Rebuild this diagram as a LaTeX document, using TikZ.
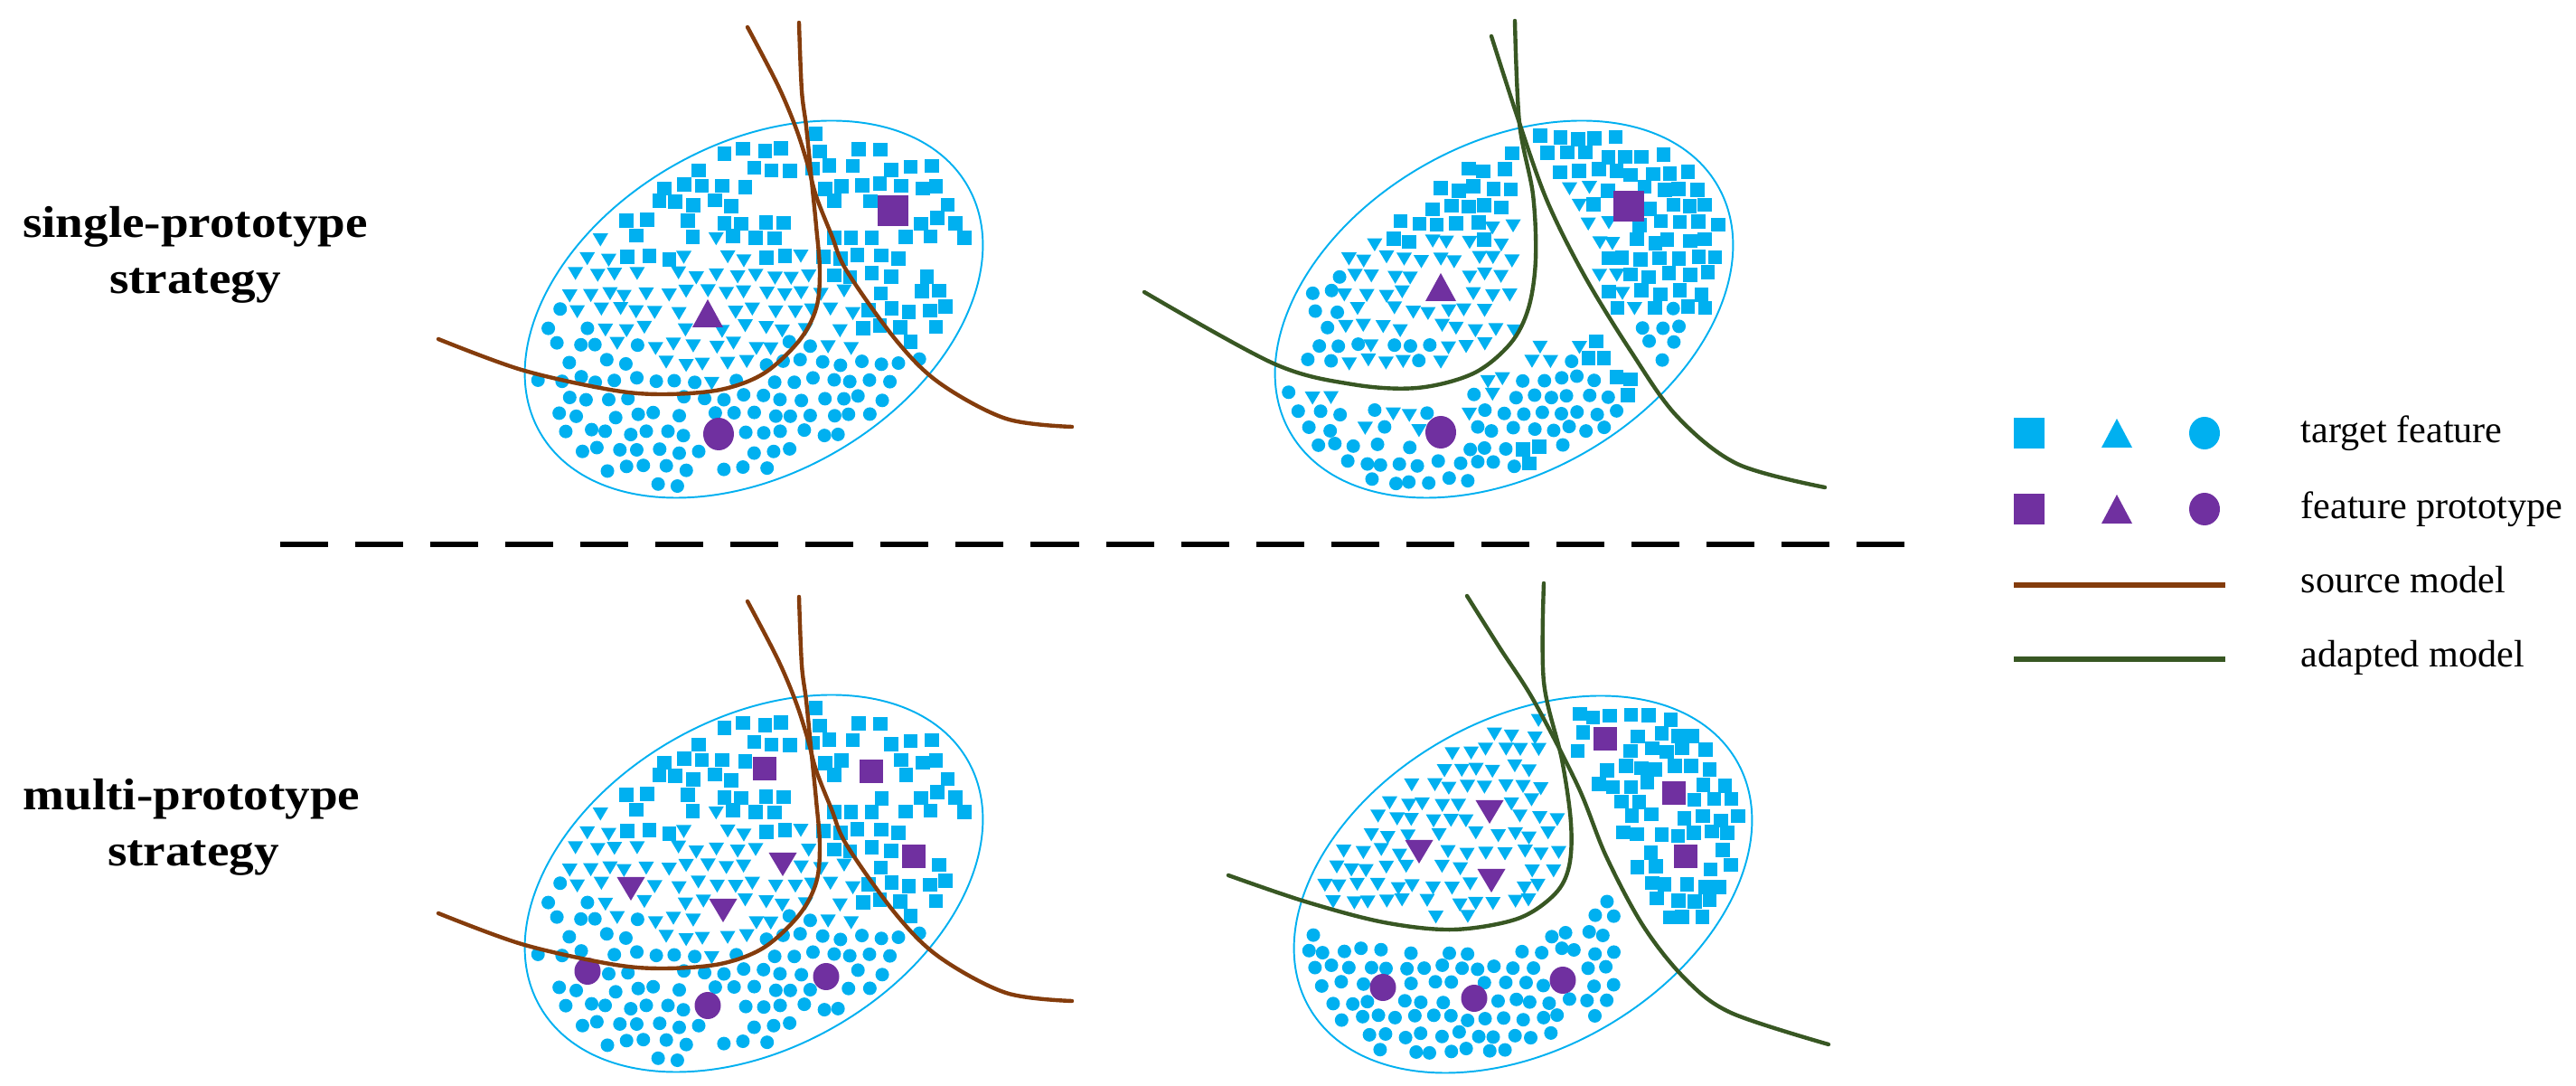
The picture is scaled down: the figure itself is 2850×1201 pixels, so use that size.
\documentclass[tikz,border=0pt]{standalone}
\usepackage{fontspec}
\setmainfont{Liberation Serif}
\newfontfamily\lblfont[FakeStretch=1.12]{Liberation Serif}
\definecolor{tcyan}{HTML}{00B0F0}
\definecolor{ppurple}{HTML}{7030A0}
\definecolor{sbrown}{HTML}{843C0C}
\definecolor{agreen}{HTML}{385723}
\tikzset{
  tfeat/.style={fill=tcyan},
  fproto/.style={fill=ppurple},
  srcline/.style={draw=sbrown, line width=1.25pt, line cap=round},
  adaline/.style={draw=agreen, line width=1.25pt, line cap=round},
  featspace/.style={draw=tcyan, line width=0.55pt},
  sidelbl/.style={font=\lblfont\bfseries\fontsize{14}{16}\selectfont, anchor=base, inner sep=0pt},
  lgtxt/.style={font=\fontsize{12}{14}\selectfont, anchor=base west, inner sep=0pt},
  sepline/.style={line width=1.45pt, dash pattern=on 5.3mm off 3mm},
}
% small target markers
\newcommand\tsq[2]{\fill[tfeat] (#1,-#2) +(-7.8,-7.8) rectangle +(7.8,7.8);}
\newcommand\ttri[2]{\fill[tfeat] (#1,-#2) +(-8.5,5.3) -- +(8.5,5.3) -- +(0,-9) -- cycle;}
\newcommand\tcirc[2]{\fill[tfeat] (#1,-#2) circle[radius=7.5];}
% prototypes
\newcommand\psq[3]{\fill[fproto] (#1,-#2) +(-#3,-#3) rectangle +(#3,#3);}
\newcommand\ptriup[2]{\fill[fproto] (#1,-#2) +(-17,-15) -- +(17,-15) -- +(0,16) -- cycle;}
\newcommand\ptridn[2]{\fill[fproto] (#1,-#2) +(-15.5,11) -- +(15.5,11) -- +(0,-15) -- cycle;}
\newcommand\pcirc[4]{\fill[fproto] (#1,-#2) ellipse[x radius=#3, y radius=#4];}
% scatter generator: #1 cx, #2 cy, #3 rule, #4 x step, #5 y step
\newcommand\scatter[5]{%
 \foreach \i in {-13,...,13}{%
  \foreach \j in {-11,...,11}{%
   \pgfmathrnd\let\ra\pgfmathresult
   \pgfmathrnd\let\rb\pgfmathresult
   \pgfmathrnd\let\rc\pgfmathresult
   \pgfmathrnd\let\rd\pgfmathresult
   \pgfmathrnd\let\re\pgfmathresult
   \ifodd\j\relax\def\off{0.5}\else\def\off{0}\fi
   \edef\px{\fpeval{round(#1 + (\i+\off)*#4 + (\ra-0.5)*8, 2)}}%
   \edef\py{\fpeval{round(#2 + \j*#5 + (\rb-0.5)*7, 2)}}%
   \edef\inside{\fpeval{((\px-#1)*0.8660254 - (\py-#2)*0.5)^2/68121 + ((\px-#1)*0.5 + (\py-#2)*0.8660254)^2/28900 < 1}}%
   \ifnum\inside=1 #3\relax
     \ifcase\cls\or\tsq\px\py\or\ttri\px\py\or\tcirc\px\py\fi
   \fi
 }}}
% class rules
\def\ruleTL{%
 \edef\yy{\fpeval{\py + (\rc-0.5)*36}}%
 \edef\cls{\fpeval{(\curexcl) ? 0 : ((\px > 955 && \yy < 380) ? 1 : ((\yy > ((\px <= 800) ? (334 + 0.55*(\px-610)) : max(380, 438 - 0.8*(\px-800)))) ? 3 : ((\yy < ((\px < 680) ? 240 : ((\px < 800) ? (295 - 0.27*(\px-680)) : (262 + 0.3*(\px-800))))) ? 1 : 2)))}}%
 \ifnum\cls=1 \ifdim\rd pt<0.3pt \def\cls{0}\fi\fi
 \ifdim\re pt<0.08pt \def\cls{0}\fi
}
\def\ruleTR{%
 \edef\XD{\fpeval{1753 + 0.538*(\py-305) + 0.000716*(\py-305)^2}}%
 \edef\XC{\fpeval{1699 - 0.0008*(\py-280)^2}}%
 \edef\YC{\fpeval{(\px > 1560) ? (430 - 0.00347*(\px-1560)^2) : (430 - 0.00123*(1560-\px)^2)}}%
 \edef\reg{\fpeval{(\curexcl) ? 0 : ((\px > \XD + 16 && \py < 410) ? 1 : ((\px < \XC - 16 && \py < \YC - 16 && \py > 300 - 0.74*(\px-1466)) ? 2 : ((\px < \XD - 16 && \py > max(\YC,360) + 16) ? 3 : 0)))}}%
 \ifcase\reg\relax \def\cls{0}%
 \or \edef\cls{\fpeval{(\px - \XD < 62 && \py > 205 && \py < 340 && \re < 0.55) ? 2 : ((\py > 326 && \px > 1792 && \re < 0.8) ? 3 : 1)}}%
 \or \edef\cls{\fpeval{((\px < 1484 && \py > 295) || (\py > \YC - 48 && \px < 1600 && \re < 0.5)) ? 3 : ((\py + (\rc-0.5)*30 < 265 - 0.6*max(0,\px-1620)) ? 1 : 2)}}%
 \or \edef\cls{\fpeval{((\XD - \px < 58 && \py < 475 && \rc < 0.85) || ((\px-1698)^2 + (\py-508)^2 < 500)) ? 1 : ((\py - max(\YC,360) < 48 && \re < 0.65) ? 2 : 3)}}%
 \fi
 \ifdim\rd pt<0.07pt \def\cls{0}\fi
}
\def\ruleBR{%
 \edef\XD{\fpeval{1748 + 0.5*(\py-870) + 0.0008*max(0,\py-960)^2}}%
 \edef\XC{\fpeval{1740 - 0.0012*(\py-930)^2}}%
 \edef\YC{\fpeval{(\px > 1600) ? (1028 - 0.0019*(\px-1600)^2) : (1028 - 0.0011*(1600-\px)^2)}}%
 \edef\cls{\fpeval{(\curexcl) ? 0 : ((\px > \XD + 16 && \py < 1025) ? 1 : ((\px < \XC - 15 && \py < \YC - 14 && \py > 896 - 0.74*(\px-1515)) ? 2 : ((\px < 1787 && \px < \XD - 16 && \py > max(\YC,960) + 26) ? 3 : 0)))}}%
 \ifdim\rd pt<0.06pt \def\cls{0}\fi
}
\begin{document}
\begin{tikzpicture}[x=0.01cm, y=0.01cm]
\useasboundingbox (0,0) rectangle (2850,-1201);

% ---------- left labels ----------
\node[sidelbl] (sp1) at (216,-263) {single-prototype};
\node[sidelbl] (sp2) at (216,-325) {strategy};
\node[sidelbl] (mp1) at (212,-896) {multi-prototype};
\node[sidelbl] (mp2) at (214,-958) {strategy};

% ---------- separator ----------
\draw[sepline] (310,-602) -- (2108,-602);

% ---------- top-left: source model, single prototype ----------
\draw[featspace, rotate around={30:(834,-342)}] (834,-342) ellipse[x radius=273, y radius=182];
\pgfmathsetseed{11}
\def\curexcl{((\px-988)^2+(\py-233)^2<520) || ((\px-783)^2+(\py-347)^2<520) || ((\px-795)^2+(\py-480)^2<520)}
\scatter{834}{342}{\ruleTL}{21.5}{19.5}
\psq{988}{233}{17}
\ptriup{783}{347}
\pcirc{795}{480}{17}{18}
\draw[srcline] plot[smooth, tension=0.55] coordinates {(884,-25) (887,-100) (892,-140) (898,-200) (903,-250) (907,-300) (903,-341) (884,-377) (845,-413) (797,-431) (733,-436) (675,-431) (577,-409) (485,-375)};
\draw[srcline] plot[smooth, tension=0.55] coordinates {(827,-30) (860,-93) (880,-140) (893,-180) (903,-217) (920,-260) (937,-300) (992,-377) (1040,-424) (1113,-463) (1186,-472)};

% ---------- bottom-left: source model, multi prototype ----------
\begin{scope}[shift={(0,-635)}]
\draw[featspace, rotate around={30:(834,-342)}] (834,-342) ellipse[x radius=273, y radius=182];
\pgfmathsetseed{11}
\def\curexcl{((\px-846)^2+(\py-215)^2<420) || ((\px-964)^2+(\py-218)^2<420) || ((\px-1011)^2+(\py-312)^2<420) || ((\px-698)^2+(\py-346)^2<420) || ((\px-866)^2+(\py-319)^2<420) || ((\px-800)^2+(\py-370)^2<420) || ((\px-650)^2+(\py-439)^2<420) || ((\px-783)^2+(\py-477)^2<420) || ((\px-914)^2+(\py-445)^2<420)}
\scatter{834}{342}{\ruleTL}{21.5}{19.5}
\end{scope}
\psq{846}{850}{13} \psq{964}{853}{13} \psq{1011}{947}{13}
\ptridn{698}{981} \ptridn{866}{954} \ptridn{800}{1005}
\pcirc{650}{1074}{14.5}{15} \pcirc{783}{1112}{14.5}{15} \pcirc{914}{1080}{14.5}{15}
\begin{scope}[shift={(0,-635)}]
\draw[srcline] plot[smooth, tension=0.55] coordinates {(884,-25) (887,-100) (892,-140) (898,-200) (903,-250) (907,-300) (903,-341) (884,-377) (845,-413) (797,-431) (733,-436) (675,-431) (577,-409) (485,-375)};
\draw[srcline] plot[smooth, tension=0.55] coordinates {(827,-30) (860,-93) (880,-140) (893,-180) (903,-217) (920,-260) (937,-300) (992,-377) (1040,-424) (1113,-463) (1186,-472)};
\end{scope}

% ---------- top-right: adapted model, single prototype ----------
\draw[featspace, rotate around={30:(1664,-342)}] (1664,-342) ellipse[x radius=273, y radius=182];
\pgfmathsetseed{23}
\def\curexcl{((\px-1802)^2+(\py-228)^2<520) || ((\px-1594)^2+(\py-318)^2<520) || ((\px-1594)^2+(\py-478)^2<520)}
\scatter{1664}{342}{\ruleTR}{20.5}{19}
\psq{1802}{228}{17}
\ptriup{1594}{318}
\pcirc{1594}{478}{17}{18}
\draw[adaline] plot[smooth, tension=0.55] coordinates {(1676,-23) (1681,-136) (1696,-215) (1699,-287) (1691,-341) (1671,-380) (1630,-413) (1568,-429) (1496,-425) (1409,-402) (1266,-323)};
\draw[adaline] plot[smooth, tension=0.55] coordinates {(1650,-40) (1681,-136) (1712,-223) (1753,-305) (1804,-388) (1855,-460) (1922,-513) (2019,-539)};

% ---------- bottom-right: adapted model, multi prototype ----------
\draw[featspace, rotate around={30:(1685,-978)}] (1685,-978) ellipse[x radius=273, y radius=182];
\pgfmathsetseed{37}
\def\curexcl{((\px-1776)^2+(\py-817)^2<420) || ((\px-1852)^2+(\py-877)^2<420) || ((\px-1865)^2+(\py-947)^2<420) || ((\px-1648)^2+(\py-896)^2<420) || ((\px-1570)^2+(\py-940)^2<420) || ((\px-1650)^2+(\py-972)^2<420) || ((\px-1530)^2+(\py-1092)^2<420) || ((\px-1631)^2+(\py-1104)^2<420) || ((\px-1729)^2+(\py-1084)^2<420)}
\scatter{1685}{978}{\ruleBR}{20}{18.5}
\psq{1776}{817}{13} \psq{1852}{877}{13} \psq{1865}{947}{13}
\ptridn{1648}{896} \ptridn{1570}{940} \ptridn{1650}{972}
\pcirc{1530}{1092}{14.5}{15} \pcirc{1631}{1104}{14.5}{15} \pcirc{1729}{1084}{14.5}{15}
\draw[adaline] plot[smooth, tension=0.55] coordinates {(1708,-645) (1708,-754) (1728,-840) (1738,-910) (1736,-958) (1720,-989) (1679,-1016) (1608,-1028) (1531,-1020) (1444,-997) (1359,-968)};
\draw[adaline] plot[smooth, tension=0.55] coordinates {(1623,-659) (1659,-716) (1697,-775) (1746,-870) (1777,-947) (1818,-1024) (1864,-1082) (1915,-1120) (2023,-1155)};

% ---------- legend ----------
\fill[tfeat] (2228,-462) rectangle (2262,-496);
\fill[tfeat] (2325,-495) -- (2359,-495) -- (2342,-463) -- cycle;
\fill[tfeat] (2439,-479) ellipse[x radius=17, y radius=18];
\fill[fproto] (2228,-546) rectangle (2262,-580);
\fill[fproto] (2325,-579) -- (2359,-579) -- (2342,-547) -- cycle;
\fill[fproto] (2439,-563) ellipse[x radius=17, y radius=18];
\draw[srcline, line width=1.5pt, line cap=butt] (2228,-647) -- (2462,-647);
\draw[adaline, line width=1.5pt, line cap=butt] (2228,-729) -- (2462,-729);
\node[lgtxt] (lg1) at (2545,-490) {target feature};
\node[lgtxt] (lg2) at (2545,-574) {feature prototype};
\node[lgtxt] (lg3) at (2545,-656) {source model};
\node[lgtxt] (lg4) at (2545,-738) {adapted model};
\end{tikzpicture}
\end{document}
